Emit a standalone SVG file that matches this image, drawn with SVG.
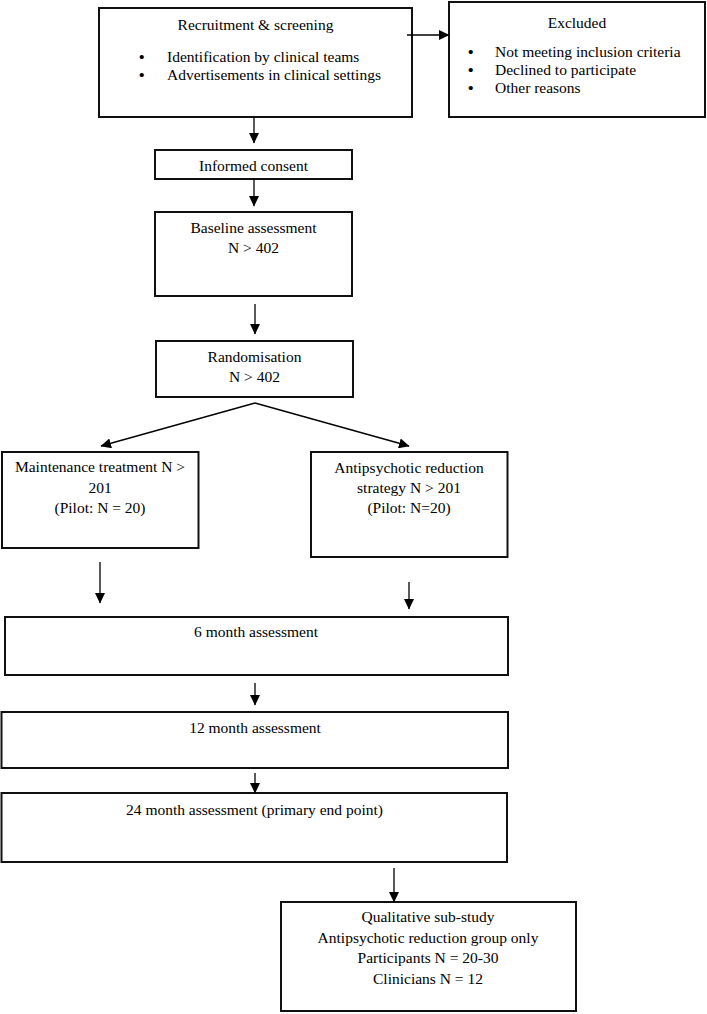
<svg xmlns="http://www.w3.org/2000/svg" width="707" height="1014" viewBox="0 0 707 1014">
<defs>
<style>
.box{fill:#fff;stroke:#111;stroke-width:2}
.t{font-family:"Liberation Serif","Times New Roman",serif;font-size:15.5px;fill:#000}
.b{font-family:"Liberation Serif","Times New Roman",serif;font-size:15.5px;font-weight:bold;fill:#000}
.c{text-anchor:middle}
.con{stroke:#000;stroke-width:1.3;fill:none;marker-end:url(#ah)}
</style>
<marker id="ah" markerUnits="userSpaceOnUse" markerWidth="11" markerHeight="10" refX="10" refY="5" orient="auto">
<path d="M0,0 L10.5,5 L0,10 z" fill="#000"/>
</marker>
</defs>
<rect width="707" height="1014" fill="#fff"/>
<g id="recruitment">
<rect class="box" x="99" y="8" width="313" height="109"/>
<text class="t c" x="255.5" y="30">Recruitment &amp; screening</text>
<text class="b" x="139" y="62">•</text>
<text class="t" x="167" y="62">Identification by clinical teams</text>
<text class="b" x="139" y="80">•</text>
<text class="t" x="167" y="80">Advertisements in clinical settings</text>
</g>
<g id="excluded">
<rect class="box" x="449" y="2" width="256" height="115"/>
<text class="t c" x="577" y="28">Excluded</text>
<text class="b" x="468" y="57">•</text>
<text class="t" x="495" y="57">Not meeting inclusion criteria</text>
<text class="b" x="468" y="75">•</text>
<text class="t" x="495" y="75">Declined to participate</text>
<text class="b" x="468" y="93">•</text>
<text class="t" x="495" y="93">Other reasons</text>
</g>
<g id="consent">
<rect class="box" x="155" y="150" width="197" height="29"/>
<text class="t c" x="253.5" y="171">Informed consent</text>
</g>
<g id="baseline">
<rect class="box" x="155" y="212" width="197" height="84"/>
<text class="t c" x="253.5" y="233">Baseline assessment</text>
<text class="t c" x="253.5" y="253">N &gt; 402</text>
</g>
<g id="randomisation">
<rect class="box" x="156" y="341" width="197" height="56"/>
<text class="t c" x="254.5" y="362">Randomisation</text>
<text class="t c" x="254.5" y="382">N &gt; 402</text>
</g>
<g id="maintenance">
<rect class="box" x="2" y="452" width="196.5" height="96"/>
<text class="t c" x="100" y="472">Maintenance treatment N &gt;</text>
<text class="t c" x="100" y="493">201</text>
<text class="t c" x="100" y="513">(Pilot: N = 20)</text>
</g>
<g id="reduction">
<rect class="box" x="311" y="452" width="196.5" height="105"/>
<text class="t c" x="409" y="473">Antipsychotic reduction</text>
<text class="t c" x="409" y="493">strategy N &gt; 201</text>
<text class="t c" x="409" y="513">(Pilot: N=20)</text>
</g>
<g id="m6">
<rect class="box" x="5" y="617" width="503" height="58"/>
<text class="t c" x="256" y="637">6 month assessment</text>
</g>
<g id="m12">
<rect class="box" x="1.5" y="712" width="506.5" height="56"/>
<text class="t c" x="255" y="733">12 month assessment</text>
</g>
<g id="m24">
<rect class="box" x="1.5" y="793" width="505.5" height="69"/>
<text class="t c" x="254.5" y="815">24 month assessment (primary end point)</text>
</g>
<g id="qualitative">
<rect class="box" x="281" y="902" width="295" height="109"/>
<text class="t c" x="428" y="922">Qualitative sub-study</text>
<text class="t c" x="428" y="943">Antipsychotic reduction group only</text>
<text class="t c" x="428" y="963">Participants N = 20-30</text>
<text class="t c" x="428" y="984">Clinicians N = 12</text>
</g>
<g id="connectors">
<line class="con" x1="407" y1="35" x2="449" y2="35"/>
<line class="con" x1="254" y1="117" x2="254" y2="143"/>
<line class="con" x1="254" y1="179" x2="254" y2="206"/>
<line class="con" x1="255" y1="304" x2="255" y2="334"/>
<line class="con" x1="255" y1="403" x2="101" y2="446"/>
<line class="con" x1="255" y1="403" x2="409" y2="446"/>
<line class="con" x1="100" y1="562" x2="100" y2="603"/>
<line class="con" x1="409" y1="582" x2="409" y2="609"/>
<line class="con" x1="255" y1="683" x2="255" y2="705"/>
<line class="con" x1="255" y1="773" x2="255" y2="793"/>
<line class="con" x1="394" y1="868" x2="394" y2="902"/>
</g>
</svg>
